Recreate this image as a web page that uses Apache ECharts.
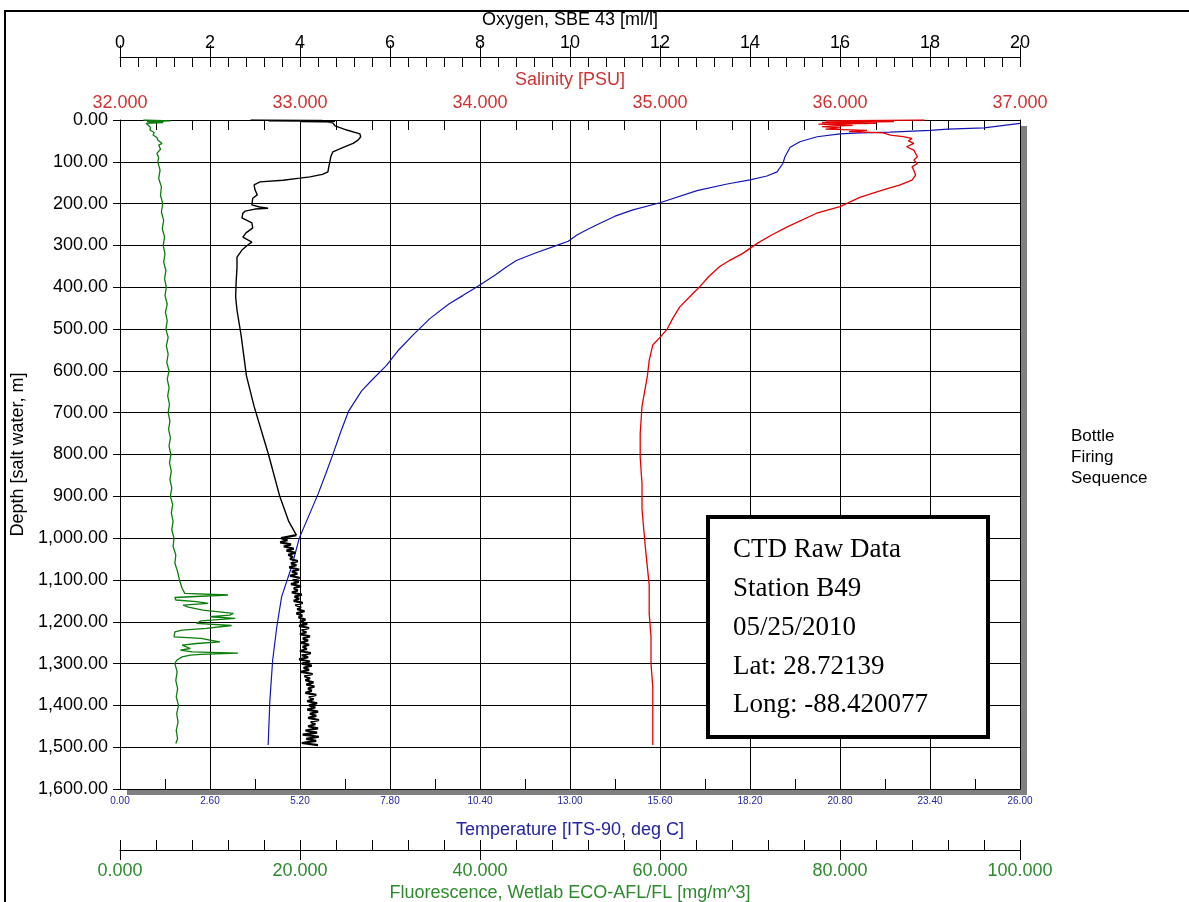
<!DOCTYPE html>
<html>
<head>
<meta charset="utf-8">
<title>CTD Raw Data - Station B49</title>
<script src="https://cdn.jsdelivr.net/npm/echarts@6.0.0/dist/echarts.min.js"></script>
<style>
  html, body { margin: 0; padding: 0; background: #fff; }
  #main { width: 1189px; height: 902px; }
</style>
</head>
<body>
<div id="main"></div>
<script>
// ---------------- data (depth in m) ----------------
var tempDepth = [8, 12, 19, 22, 25, 29, 31, 33, 40, 52, 65, 88, 104, 124, 134, 143, 153, 169, 198, 215,
  230, 247, 262, 275, 290, 300, 318, 336, 352, 370, 398, 420, 440, 475, 514, 550, 587, 620, 648, 697,
  745, 795, 845, 893, 1000, 1068, 1140, 1212, 1292, 1388, 1495];
var tempValue = [26.0, 25.95, 24.96, 23.92, 23.4, 22.25, 21.38, 20.8, 20.14, 19.64, 19.36, 19.21, 19.15, 18.98, 18.69, 18.2, 17.54, 16.67, 15.6, 14.82,
  14.3, 13.87, 13.5, 13.2, 12.95, 12.62, 12.0, 11.45, 11.15, 10.85, 10.33, 9.9, 9.5, 8.95, 8.47, 8.05, 7.7, 7.3, 6.98, 6.6,
  6.38, 6.17, 5.95, 5.73, 5.18, 4.96, 4.67, 4.53, 4.41, 4.33, 4.28];

var salDepth = [0, 2, 4, 6, 8, 10, 13, 16, 19, 22, 25, 28, 31, 36, 40, 44, 50, 56, 64, 72,
  80, 88, 96, 104, 112, 120, 132, 144, 156, 167, 185, 207, 223, 255, 275, 295, 319, 335, 351, 375,
  399, 425, 447, 475, 500, 520, 538, 575, 612, 685, 750, 807, 870, 930, 980, 1028, 1070, 1113, 1180, 1235,
  1300, 1358, 1430, 1495];
var salValue = [36.47, 35.92, 36.3, 35.9, 36.2, 35.88, 36.07, 35.9, 36.0, 35.92, 36.15, 36.05, 36.24, 36.28, 36.35, 36.4, 36.38, 36.41, 36.37, 36.41,
  36.42, 36.43, 36.41, 36.43, 36.4, 36.41, 36.42, 36.4, 36.33, 36.24, 36.11, 36.0, 35.87, 35.71, 35.62, 35.54, 35.46, 35.39, 35.33, 35.27,
  35.22, 35.16, 35.11, 35.07, 35.04, 35.0, 34.96, 34.94, 34.93, 34.9, 34.89, 34.89, 34.9, 34.9, 34.91, 34.92, 34.93, 34.94, 34.94, 34.95,
  34.95, 34.96, 34.96, 34.96];

// oxygen, upper thin trace
var oxyDepth = [0, 1, 2, 3, 4, 5, 7, 14, 24, 33, 40, 48, 56, 66, 76, 86, 96, 112, 124, 130,
  136, 139, 144, 148, 155, 167, 179, 187, 203, 208, 211, 213, 218, 223, 234, 246, 258, 270, 280, 292,
  299, 311, 328, 352, 390, 423, 455, 514, 612, 685, 800, 900, 960, 993];
var oxyValue = [2.9, 4.5, 3.3, 4.78, 4.0, 4.6, 4.73, 4.78, 5.04, 5.33, 5.35, 5.29, 5.18, 4.95, 4.73, 4.69, 4.67, 4.64, 4.62, 4.5,
  4.22, 4.0, 3.62, 3.11, 2.98, 3.0, 3.05, 2.95, 2.93, 3.1, 3.29, 3.0, 2.78, 2.73, 2.71, 2.93, 2.95, 2.8, 2.73, 2.93,
  2.84, 2.71, 2.6, 2.6, 2.58, 2.57, 2.6, 2.69, 2.81, 2.98, 3.3, 3.55, 3.75, 3.92];

// oxygen, noisy deep section (joins the upper trace at 993 m)
var oxyDeepDepth = [993,
  1000, 1005, 1010, 1015, 1020, 1025, 1030, 1035, 1040, 1045,
  1050, 1055, 1060, 1065, 1070, 1075, 1080, 1085, 1090, 1095,
  1100, 1105, 1110, 1115, 1120, 1125, 1130, 1135, 1140, 1145,
  1150, 1155, 1160, 1165, 1170, 1175, 1180, 1185, 1190, 1195,
  1200, 1205, 1210, 1215, 1220, 1225, 1230, 1235, 1240, 1245,
  1250, 1255, 1260, 1265, 1270, 1275, 1280, 1285, 1290, 1295,
  1300, 1305, 1310, 1315, 1320, 1325, 1330, 1335, 1340, 1345,
  1350, 1355, 1360, 1365, 1370, 1375, 1380, 1385, 1390, 1395,
  1400, 1405, 1410, 1415, 1420, 1425, 1430, 1435, 1440, 1445,
  1450, 1455, 1460, 1465, 1470, 1475, 1480, 1485, 1490, 1495];
var oxyDeepValue = [3.92,
  3.58, 3.72, 3.56, 3.80, 3.64, 3.86, 3.70, 3.90, 3.74, 3.84,
  3.78, 3.95, 3.80, 3.92, 3.76, 3.98, 3.82, 3.94, 3.78, 3.99,
  3.84, 3.97, 3.80, 4.02, 3.86, 3.95, 3.82, 4.04, 3.88, 3.98,
  3.86, 4.06, 3.90, 4.02, 3.94, 4.10, 3.92, 4.05, 3.97, 4.12,
  4.00, 4.16, 3.98, 4.20, 4.04, 4.14, 4.00, 4.22, 4.06, 4.18,
  4.02, 4.20, 4.06, 4.15, 4.00, 4.24, 4.04, 4.18, 3.98, 4.22,
  4.04, 4.26, 4.08, 4.20, 4.02, 4.28, 4.10, 4.22, 4.12, 4.30,
  4.14, 4.32, 4.18, 4.26, 4.12, 4.36, 4.20, 4.30, 4.16, 4.38,
  4.20, 4.34, 4.16, 4.40, 4.22, 4.36, 4.18, 4.42, 4.24, 4.34,
  4.18, 4.40, 4.12, 4.38, 4.06, 4.42, 4.14, 4.36, 4.04, 4.40];

var fluoDepth = [0, 2, 4, 6, 8, 12, 18, 24, 30, 36, 42, 48, 52, 56, 60, 70, 80, 90,
  100, 120, 140, 160, 180, 200, 220, 240, 260, 280, 300, 320, 340, 360, 380, 400, 420, 440, 460, 480,
  500, 520, 540, 560, 580, 600, 620, 640, 660, 680, 700, 720, 740, 760, 780, 800, 820, 840, 860, 880,
  900, 920, 940, 960, 980, 1000, 1020, 1040, 1060, 1080, 1100,
  1120, 1132, 1136, 1140, 1142, 1148, 1152, 1156, 1160, 1165, 1172, 1180, 1184, 1188, 1192, 1198, 1204, 1209,
  1216, 1220, 1224, 1236, 1240, 1244, 1248, 1252, 1256, 1264, 1268, 1272, 1275, 1278, 1280, 1284, 1292,
  1300, 1320, 1340, 1360, 1380, 1400, 1420, 1440, 1460, 1480, 1491];
var fluoValue = [2.6, 5.6, 3.0, 4.8, 2.9, 3.0, 3.4, 3.33, 3.8, 3.67, 4.1, 4.2, 4.0, 4.67, 4.3, 4.5, 4.1, 4.3,
  4.2, 4.45, 4.3, 4.6, 4.5, 4.75, 4.6, 4.85, 4.7, 4.95, 4.8, 5.0, 4.85, 5.1, 4.95, 5.15, 5.0, 5.25, 5.05, 5.25,
  5.1, 5.35, 5.15, 5.35, 5.2, 5.45, 5.25, 5.45, 5.3, 5.5, 5.35, 5.55, 5.4, 5.6, 5.45, 5.65, 5.5, 5.7, 5.55, 5.75,
  5.6, 5.85, 5.7, 5.9, 5.75, 6.0, 5.9, 6.2, 6.1, 6.4, 6.6,
  6.9, 7.2, 12.0, 12.1, 6.1, 6.2, 8.5, 9.8, 7.0, 7.6, 9.2, 12.6, 12.2, 10.0, 12.8, 9.0, 8.5, 12.4,
  9.6, 6.9, 6.1, 6.0, 9.0, 10.0, 11.1, 8.5, 6.9, 7.8, 6.7, 8.0, 13.1, 9.0, 7.8, 6.9, 6.3,
  6.1, 6.35, 6.2, 6.4, 6.25, 6.5, 6.3, 6.45, 6.25, 6.4, 6.2];

// axis ranges: [min, max, label step]
var oxyAxis = [0, 20, 2];
var salAxis = [32, 37, 1];
var tempAxis = [0, 26, 2.6];
var fluoAxis = [0, 100, 20];
var depthAxis = [0, 1600, 100];

var boxLines = ['CTD Raw Data', 'Station B49', '05/25/2010', 'Lat: 28.72139', 'Long: -88.420077'];
var sideLines = ['Bottle', 'Firing', 'Sequence'];

// ---------------- helpers ----------------
var sans = "'Liberation Sans', Arial, sans-serif";
var serif = "'Liberation Serif', 'Times New Roman', serif";
var salColor = '#cc3333', tempColor = '#2424a0', fluoColor = '#2d8a2d';

function zip(values, depths) {
	var out = [];
	for (var i = 0; i < values.length; i++) {
		out.push([values[i], depths[i]]);
	}
	return out;
}

function depthLabel(v) {
	var p = v.toFixed(2).split('.');
	p[0] = p[0].replace(/\B(?=(\d{3})+(?!\d))/g, ',');
	return p.join('.');
}

var line = { show : true, onZero : false, lineStyle : { color : '#000', width : 1 } };
var tick = { color : '#000', width : 1 };

function profile(name, axis, data, color, width) {
	return {
		name : name, type : 'line', xAxisIndex : axis, yAxisIndex : 0,
		data : data, showSymbol : false, symbol : 'none', silent : true,
		lineStyle : { color : color, width : width }, itemStyle : { color : color }
	};
}

var option = {
	backgroundColor : '#fff',
	animation : false,
	grid : {
		left : 120, top : 120, right : 169, bottom : 113,
		show : true,
		backgroundColor : '#fff',
		borderWidth : 0,
		shadowColor : '#808080',
		shadowBlur : 0,
		shadowOffsetX : 7,
		shadowOffsetY : 6,
		containLabel : false,
		outerBoundsMode : 'none'
	},
	xAxis : [
	// 0: oxygen (top, offset)
	{
		type : 'value', position : 'top', offset : 63,
		min : oxyAxis[0], max : oxyAxis[1], interval : oxyAxis[2],
		name : 'Oxygen, SBE 43 [ml/l]', nameLocation : 'middle', nameGap : 28, nameMoveOverlap : false,
		nameTextStyle : { color : '#000', fontSize : 18, fontFamily : sans },
		axisLine : line,
		axisTick : { show : true, inside : true, length : 10, lineStyle : tick },
		minorTick : { show : true, splitNumber : 5, length : 10, lineStyle : tick },
		axisLabel : { color : '#000', fontSize : 18, fontFamily : sans, margin : 5 },
		splitLine : { show : true, lineStyle : { color : '#000', width : 1 } }
	},
	// 1: salinity (top of plot)
	{
		type : 'value', position : 'top', offset : 0,
		min : salAxis[0], max : salAxis[1], interval : salAxis[2],
		name : 'Salinity [PSU]', nameLocation : 'middle', nameGap : 31, nameMoveOverlap : false,
		nameTextStyle : { color : salColor, fontSize : 18, fontFamily : sans },
		axisLine : line,
		axisTick : { show : true, inside : true, length : 10, lineStyle : tick },
		minorTick : { show : true, splitNumber : 5, length : 10, lineStyle : tick },
		axisLabel : { color : salColor, fontSize : 18, fontFamily : sans, margin : 8,
			formatter : function(v) { return v.toFixed(3); } },
		splitLine : { show : false }
	},
	// 2: temperature (bottom of plot)
	{
		type : 'value', position : 'bottom', offset : 0,
		min : tempAxis[0], max : tempAxis[1], interval : tempAxis[2],
		name : 'Temperature [ITS-90, deg C]', nameLocation : 'middle', nameGap : 32, nameMoveOverlap : false,
		nameTextStyle : { color : tempColor, fontSize : 18, fontFamily : sans },
		axisLine : line,
		axisTick : { show : true, inside : true, length : 10, lineStyle : tick },
		minorTick : { show : true, splitNumber : 2, length : 10, lineStyle : tick },
		axisLabel : { color : tempColor, fontSize : 10, fontFamily : sans, margin : 7,
			formatter : function(v) { return v.toFixed(2); } },
		splitLine : { show : false }
	},
	// 3: fluorescence (bottom, offset)
	{
		type : 'value', position : 'bottom', offset : 61,
		min : fluoAxis[0], max : fluoAxis[1], interval : fluoAxis[2],
		name : 'Fluorescence, Wetlab ECO-AFL/FL [mg/m^3]', nameLocation : 'middle', nameGap : 34, nameMoveOverlap : false,
		nameTextStyle : { color : fluoColor, fontSize : 18, fontFamily : sans },
		axisLine : line,
		axisTick : { show : true, inside : true, length : 10, lineStyle : tick },
		minorTick : { show : true, splitNumber : 5, length : 10, lineStyle : tick },
		axisLabel : { color : fluoColor, fontSize : 18, fontFamily : sans, margin : 12,
			formatter : function(v) { return v.toFixed(3); } },
		splitLine : { show : false }
	},
	// 4: oxygen major ticks reaching up through the labels
	{
		type : 'value', position : 'top', offset : 63,
		min : oxyAxis[0], max : oxyAxis[1], interval : oxyAxis[2],
		axisLine : { show : false, onZero : false },
		axisTick : { show : true, inside : false, length : 12, lineStyle : tick },
		axisLabel : { show : false },
		splitLine : { show : false }
	},
	// 5: fluorescence major ticks crossing below the line
	{
		type : 'value', position : 'bottom', offset : 61,
		min : fluoAxis[0], max : fluoAxis[1], interval : fluoAxis[2],
		axisLine : { show : false, onZero : false },
		axisTick : { show : true, inside : false, length : 10, lineStyle : tick },
		axisLabel : { show : false },
		splitLine : { show : false }
	} ],
	yAxis : [ {
		type : 'value', inverse : true, position : 'left',
		min : depthAxis[0], max : depthAxis[1], interval : depthAxis[2],
		name : 'Depth [salt water, m]', nameLocation : 'middle', nameGap : 93, nameRotate : 90, nameMoveOverlap : false,
		nameTextStyle : { color : '#000', fontSize : 18, fontFamily : sans },
		axisLine : line,
		axisTick : { show : true, inside : false, length : 7, lineStyle : tick },
		axisLabel : { color : '#000', fontSize : 18, fontFamily : sans, margin : 12, formatter : depthLabel },
		splitLine : { show : true, lineStyle : { color : '#000', width : 1 } }
	}, {
		// right frame edge of the plot
		type : 'value', inverse : true, position : 'right',
		min : depthAxis[0], max : depthAxis[1], interval : depthAxis[2],
		axisLine : line,
		axisTick : { show : false },
		axisLabel : { show : false },
		splitLine : { show : false }
	} ],
	series : [
		profile('Fluorescence', 3, zip(fluoValue, fluoDepth), '#0a7d0a', 1.3),
		profile('Temperature', 2, zip(tempValue, tempDepth), '#1414b4', 1.2),
		profile('Salinity', 1, zip(salValue, salDepth), '#e60000', 1.3),
		profile('Oxygen', 0, zip(oxyValue, oxyDepth), '#000', 1.4),
		profile('Oxygen deep', 0, zip(oxyDeepValue, oxyDeepDepth), '#000', 2.2)
	],
	graphic : [ {
		// outer frame of the page
		type : 'rect', silent : true, z : 0,
		shape : { x : 5, y : 11, width : 1250, height : 1000 },
		style : { fill : 'none', stroke : '#000', lineWidth : 2 }
	}, {
		type : 'rect', silent : true, z : 100,
		shape : { x : 708, y : 517, width : 280, height : 220 },
		style : { fill : '#fff', stroke : '#000', lineWidth : 4 }
	}, {
		type : 'text', silent : true, z : 101, x : 733, y : 531,
		style : { text : boxLines.join('\n'), fill : '#000', fontSize : 27, fontFamily : serif,
			lineHeight : 38.7, align : 'left', verticalAlign : 'top' }
	}, {
		type : 'text', silent : true, z : 101, x : 1071, y : 426,
		style : { text : sideLines.join('\n'), fill : '#000', fontSize : 17, fontFamily : sans,
			lineHeight : 21, align : 'left', verticalAlign : 'top' }
	} ]
};

var chart = echarts.init(document.getElementById('main'));
chart.setOption(option);
</script>
</body>
</html>
